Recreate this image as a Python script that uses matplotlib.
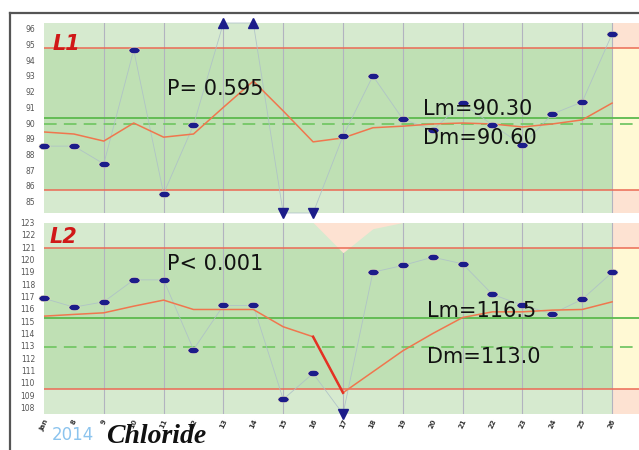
import numpy as np
import matplotlib
matplotlib.use('Agg')
import matplotlib.pyplot as plt
from matplotlib.markers import MarkerStyle
from matplotlib.transforms import Affine2D
from matplotlib.lines import Line2D

# ---------------- data ----------------
runs = list(range(20))
x_labels = ['Jan', '8', '9', '10', '11', '12', '13', '14', '15', '16',
            '17', '18', '19', '20', '21', '22', '23', '24', '25', '26']

# Level 1
l1_values = [88.53, 88.53, 87.40, 94.65, 85.50, 89.87, 97.00, 97.00, 84.00, 84.00,
             89.17, 93.00, 90.25, 89.55, 91.27, 89.87, 88.60, 90.57, 91.34, 95.67]
l1_trend = [89.43, 89.30, 88.85, 90.00, 89.10, 89.30, 91.00, 92.67, 90.77, 88.80,
            89.05, 89.70, 89.80, 89.94, 90.00, 89.94, 89.75, 89.94, 90.20, 91.27]
l1_ucl, l1_lcl, l1_lm, l1_dm = 94.75, 85.76, 90.32, 89.95
l1_ylim = (84.27, 96.37)
l1_ticks = list(range(85, 97))

# Level 2
l2_values = [116.85, 116.14, 116.57, 118.35, 118.35, 112.70, 116.28, 116.28, 108.67, 110.77,
             107.00, 118.97, 119.52, 120.19, 119.65, 117.17, 116.30, 115.60, 116.77, 118.95]
l2_trend = [115.41, 115.55, 115.68, 116.22, 116.71, 115.95, 115.95, 115.95, 114.55, 113.74,
            109.20, 110.90, 112.60, 114.00, 115.30, 115.76, 115.76, 115.90, 115.95, 116.57]
l2_ucl, l2_lcl, l2_lm, l2_dm = 120.94, 109.48, 115.22, 112.93
l2_ylim = (107.48, 123.0)
l2_ticks = list(range(108, 124))
l2_alert_x = [9, 10, 11, 12]
l2_alert_floor = [123.0, 120.55, 122.50, 123.0]
l2_drop_x = [9, 10]

panels = [
    dict(name='L1', values=l1_values, trend=l1_trend, ucl=l1_ucl, lcl=l1_lcl, lm=l1_lm, dm=l1_dm,
         ylim=l1_ylim, ticks=l1_ticks, p='P= 0.595', lm_txt='Lm=90.30', dm_txt='Dm=90.60'),
    dict(name='L2', values=l2_values, trend=l2_trend, ucl=l2_ucl, lcl=l2_lcl, lm=l2_lm, dm=l2_dm,
         ylim=l2_ylim, ticks=l2_ticks, p='P< 0.001', lm_txt='Lm=116.5', dm_txt='Dm=113.0'),
]

# ---------------- styles ----------------
W, H = 639, 450
MID_GREEN = '#bfe0b4'
LIGHT_GREEN = '#d6eacf'
YELLOW = '#fff9d4'
PINK = '#fde2d2'
RED = '#ec6a55'
GREEN = '#5cba4e'
DASH_GREEN = '#74c766'
TREND = '#f0764e'
NAVY = '#1c1c8a'
XMAX = 19.9
XEND = 19

fig = plt.figure(figsize=(W / 100, H / 100), dpi=100)
fig.patch.set_facecolor('white')

ax_rects = [
    [44 / W, 1 - 213 / H, 1 - 44 / W, (213 - 23) / H],
    [44 / W, 1 - 414 / H, 1 - 44 / W, (414 - 222.5) / H],
]

dot = MarkerStyle('o', transform=Affine2D().scale(1.0, 0.58))

axes = []
for rect, pn in zip(ax_rects, panels):
    ax = fig.add_axes(rect)
    axes.append(ax)
    y0, y1 = pn['ylim']
    ax.set_xlim(0, XMAX)
    ax.set_ylim(y0, y1)
    for s in ax.spines.values():
        s.set_visible(False)

    # background zones
    ax.fill_between([0, XEND], y0, pn['lcl'], color=LIGHT_GREEN, lw=0, zorder=0)
    ax.fill_between([0, XEND], pn['lcl'], pn['ucl'], color=MID_GREEN, lw=0, zorder=0)
    ax.fill_between([0, XEND], pn['ucl'], y1, color=LIGHT_GREEN, lw=0, zorder=0)
    ax.fill_between([XEND, XMAX], y0, pn['lcl'], color=PINK, lw=0, zorder=0)
    ax.fill_between([XEND, XMAX], pn['lcl'], pn['ucl'], color=YELLOW, lw=0, zorder=0)
    ax.fill_between([XEND, XMAX], pn['ucl'], y1, color=PINK, lw=0, zorder=0)

    # vertical grid
    for gx in list(range(2, 19, 2)) + [XEND]:
        ax.axvline(gx, color='#b2b3c0', lw=0.8, zorder=1)

    # limit lines
    ax.axhline(pn['ucl'], color=RED, lw=1.1, zorder=2)
    ax.axhline(pn['lcl'], color=RED, lw=1.1, zorder=2)
    ax.axhline(pn['lm'], color=GREEN, lw=1.3, zorder=2)
    ax.axhline(pn['dm'], color=DASH_GREEN, lw=1.3, ls=(0, (7, 4)), zorder=2)

    vals = np.array(pn['values'])
    shown = np.clip(vals, y0, y1)
    # thin connector
    ax.plot(runs, shown, color='#aec0c8', lw=0.6, alpha=0.9, zorder=3, clip_on=False)
    # trend
    ax.plot(runs, pn['trend'], color=TREND, lw=1.1, zorder=4)

    inside = (vals >= y0) & (vals <= y1)
    above = vals > y1
    below = vals < y0
    xr = np.array(runs)
    ax.plot(xr[inside], vals[inside], ls='none', marker=dot, ms=8, mfc=NAVY,
            mec='#f6f0c0', mew=0.4, zorder=5, clip_on=False)
    ax.plot(xr[above], shown[above], ls='none', marker='^', ms=6.5, mfc=NAVY, mec=NAVY,
            zorder=5, clip_on=False)
    ax.plot(xr[below], shown[below], ls='none', marker='v', ms=6.5, mfc=NAVY, mec=NAVY,
            zorder=5, clip_on=False)

    ax.set_yticks(pn['ticks'])
    ax.set_yticklabels([str(t) for t in pn['ticks']])
    ax.tick_params(axis='y', length=0, pad=6.5, labelsize=5.5, labelcolor='#555555')

    # texts
    tf = 'DejaVu Sans'
    if pn['name'] == 'L1':
        ax.text(0.3, 94.65, 'L1', color='#d01818', fontsize=15, fontweight='bold',
                style='italic', va='baseline', zorder=6)
        ax.text(4.11, 91.78, pn['p'], fontsize=15, family=tf, color='#111111', va='baseline', zorder=6)
        ax.text(12.68, 90.51, pn['lm_txt'], fontsize=15, family=tf, color='#111111', va='baseline', zorder=6)
        ax.text(12.68, 88.66, pn['dm_txt'], fontsize=15, family=tf, color='#111111', va='baseline', zorder=6)
    else:
        ax.text(0.17, 121.32, 'L2', color='#d01818', fontsize=15, fontweight='bold',
                style='italic', va='baseline', zorder=6)
        ax.text(4.11, 119.14, pn['p'], fontsize=15, family=tf, color='#111111', va='baseline', zorder=6)
        ax.text(12.81, 115.33, pn['lm_txt'], fontsize=15, family=tf, color='#111111', va='baseline', zorder=6)
        ax.text(12.81, 111.6, pn['dm_txt'], fontsize=15, family=tf, color='#111111', va='baseline', zorder=6)
        # alert fill
        ax.fill_between(l2_alert_x, l2_alert_floor, y1, color=PINK, lw=0, zorder=1.5)
        # steep drop segment of the trend
        ax.plot(l2_drop_x, [pn['trend'][i] for i in l2_drop_x], color='#e43224', lw=1.8, zorder=4.5)

# x axis
axes[0].set_xticks([])
axes[1].set_xticks(runs)
axes[1].set_xticklabels(x_labels, rotation=65, fontsize=5, color='#333333', fontweight='bold')
axes[1].tick_params(axis='x', length=0, pad=3)
for lab in axes[1].get_xticklabels():
    lab.set_ha('center')

# frame lines
fig.add_artist(Line2D([10 / W, 1], [1 - 13 / H, 1 - 13 / H], color='#555555', lw=1.6))
fig.add_artist(Line2D([10 / W, 10 / W], [1 - 13 / H, 0], color='#555555', lw=1.6))

# footer texts
fig.text(52 / W, 1 - 440 / H, '2014', color='#8cc4ee', fontsize=12, va='baseline')
fig.text(106 / W, 1 - 443 / H, 'Chloride', family='Liberation Serif', style='italic',
         fontweight='bold', fontsize=20, color='#111111', va='baseline')

fig.savefig('out.png', dpi=100)
